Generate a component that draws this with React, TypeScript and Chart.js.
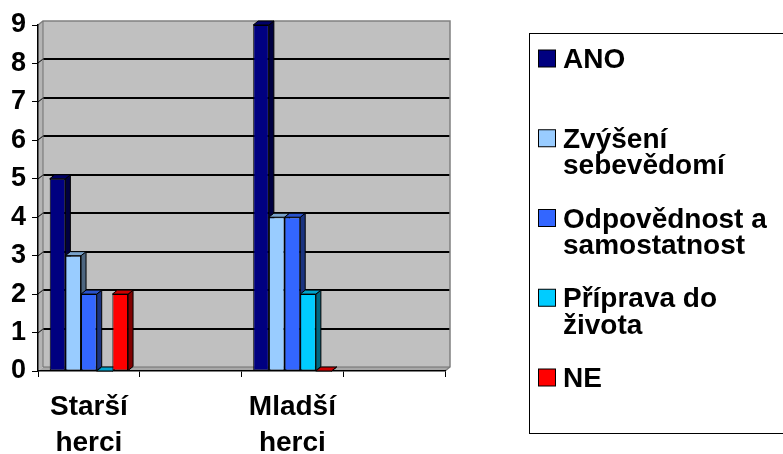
import React, { useEffect, useRef } from "react";
import { Chart, registerables } from "chart.js";

Chart.register(...registerables);

// ---- data ----
const categories = ["Starší herci", "", "Mladší herci", ""];
const seriesNames = [
  "ANO",
  "Zvýšení sebevědomí",
  "Odpovědnost a samostatnost",
  "Příprava do života",
  "NE",
];
const ano = [5, null, 9, null];
const zvyseniSebevedomi = [3, null, 4, null];
const odpovednostSamostatnost = [2, null, 4, null];
const pripravaDoZivota = [0, null, 2, null];
const ne = [2, null, 0, null];
const seriesValues = [ano, zvyseniSebevedomi, odpovednostSamostatnost, pripravaDoZivota, ne];
const seriesColors = ["#000080", "#99CCFF", "#3366FF", "#00CCFF", "#FF0000"];
const yMin = 0;
const yMax = 9;

// ---- styling constants ----
const FONT = "'Liberation Sans', Arial, Helvetica, sans-serif";
const DX = 5;
const DY = -4;

function shade(hex: string, f: number): string {
  const n = parseInt(hex.slice(1), 16);
  const r = Math.round(((n >> 16) & 255) * f);
  const g = Math.round(((n >> 8) & 255) * f);
  const b = Math.round((n & 255) * f);
  return `rgb(${r},${g},${b})`;
}

function poly(ctx: CanvasRenderingContext2D, pts: number[][], fill: string, stroke?: string) {
  ctx.beginPath();
  ctx.moveTo(pts[0][0], pts[0][1]);
  for (let i = 1; i < pts.length; i++) ctx.lineTo(pts[i][0], pts[i][1]);
  ctx.closePath();
  ctx.fillStyle = fill;
  ctx.fill();
  if (stroke) {
    ctx.strokeStyle = stroke;
    ctx.lineWidth = 1;
    ctx.stroke();
  }
}

const wallPlugin = {
  id: "wall3d",
  beforeDraw(chart: any) {
    const { ctx, chartArea } = chart;
    const L = chartArea.left;
    const R = chartArea.right;
    const T = chartArea.top;
    const B = chartArea.bottom;
    const ys = chart.scales.y;
    ctx.save();
    // back wall
    ctx.fillStyle = "#C0C0C0";
    ctx.fillRect(L + DX, T + DY, R - L, B - T);
    // left side wall
    poly(ctx, [[L, T], [L + DX, T + DY], [L + DX, B + DY], [L, B]], "#B4B4B4");
    // floor
    poly(ctx, [[L, B], [L + DX, B + DY], [R + DX, B + DY], [R, B]], "#A8A8A8");
    // gridlines on back wall
    for (let v = yMin + 1; v < yMax; v++) {
      const py = Math.round(ys.getPixelForValue(v) + DY);
      ctx.strokeStyle = "#000";
      ctx.lineWidth = 2;
      ctx.beginPath();
      ctx.moveTo(L + DX, py);
      ctx.lineTo(R + DX, py);
      ctx.stroke();
      ctx.lineWidth = 1;
      ctx.beginPath();
      ctx.moveTo(L, py - DY);
      ctx.lineTo(L + DX, py);
      ctx.stroke();
    }
    // wall outlines
    ctx.strokeStyle = "#808080";
    ctx.lineWidth = 1.5;
    ctx.beginPath();
    ctx.moveTo(L, T);
    ctx.lineTo(L + DX, T + DY);
    ctx.lineTo(R + DX, T + DY);
    ctx.lineTo(R + DX, B + DY);
    ctx.lineTo(R, B);
    ctx.stroke();
    ctx.beginPath();
    ctx.moveTo(L + DX, T + DY);
    ctx.lineTo(L + DX, B + DY);
    ctx.lineTo(R + DX, B + DY);
    ctx.strokeStyle = "#707070";
    ctx.lineWidth = 1;
    ctx.stroke();
    ctx.restore();
  },
  beforeDatasetsDraw(chart: any) {
    const { ctx } = chart;
    const n = chart.data.datasets.length;
    ctx.save();
    for (let i = 0; i < categories.length; i++) {
      for (let d = 0; d < n; d++) {
        const val = chart.data.datasets[d].data[i];
        if (val === null || val === undefined) continue;
        const el = chart.getDatasetMeta(d).data[i];
        if (!el) continue;
        const p = el.getProps(["x", "y", "base", "width"], true);
        const left = p.x - p.width / 2;
        const right = p.x + p.width / 2;
        const top = p.y;
        const base = p.base;
        const col = seriesColors[d];
        // side face
        poly(
          ctx,
          [[right, top], [right + DX, top + DY], [right + DX, base + DY], [right, base]],
          shade(col, 0.5),
          "#000"
        );
        // top face
        poly(
          ctx,
          [[left, top], [left + DX, top + DY], [right + DX, top + DY], [right, top]],
          shade(col, 0.8),
          "#000"
        );
      }
    }
    ctx.restore();
  },
};

function wrapText(ctx: CanvasRenderingContext2D, text: string, maxW: number): string[] {
  const words = text.split(" ");
  const lines: string[] = [];
  let cur = "";
  for (const w of words) {
    const test = cur ? cur + " " + w : w;
    if (cur && ctx.measureText(test).width > maxW) {
      lines.push(cur);
      cur = w;
    } else {
      cur = test;
    }
  }
  if (cur) lines.push(cur);
  return lines;
}

const legendPlugin = {
  id: "boxLegend",
  afterDraw(chart: any) {
    const { ctx } = chart;
    const boxX = 529.5;
    const boxY = 33.5;
    const boxW = 300;
    const boxH = 400;
    const firstBaseline = 68;
    const step = 79.75;
    const lineH = 26.5;
    const textX = 563;
    const swX = 538.5;
    const sw = 17;
    ctx.save();
    ctx.strokeStyle = "#000";
    ctx.lineWidth = 1;
    ctx.strokeRect(boxX, boxY, boxW, boxH);
    ctx.font = `bold 28px ${FONT}`;
    ctx.textBaseline = "alphabetic";
    ctx.textAlign = "left";
    chart.data.datasets.forEach((ds: any, i: number) => {
      const bl = firstBaseline + i * step;
      ctx.fillStyle = ds.backgroundColor;
      ctx.fillRect(swX, bl - sw - 1, sw, sw);
      ctx.strokeStyle = "#000";
      ctx.strokeRect(swX, bl - sw - 1, sw, sw);
      ctx.fillStyle = "#000";
      const lines = wrapText(ctx, ds.label, 783 - textX - 2);
      lines.forEach((ln, k) => ctx.fillText(ln, textX, bl + k * lineH));
    });
    ctx.restore();
  },
};

export default function App() {
  const ref = useRef<HTMLCanvasElement | null>(null);
  useEffect(() => {
    if (!ref.current) return;
    const chart = new Chart(ref.current, {
      type: "bar",
      data: {
        labels: categories,
        datasets: seriesNames.map((name, i) => ({
          label: name,
          data: seriesValues[i],
          backgroundColor: seriesColors[i],
          borderColor: "#000",
          borderWidth: 1,
          borderSkipped: false,
          categoryPercentage: 0.77,
          barPercentage: 1,
        })),
      },
      options: {
        responsive: false,
        animation: false,
        layout: { padding: { top: 25, right: 338, left: 0, bottom: 0 } },
        plugins: {
          legend: { display: false },
          tooltip: { enabled: false },
        },
        scales: {
          x: {
            grid: {
              offset: true,
              drawOnChartArea: false,
              drawTicks: true,
              tickLength: 6,
              color: "#000",
              lineWidth: 1,
            },
            border: { display: true, color: "#000", width: 1.5 },
            ticks: {
              color: "#000",
              font: { family: FONT, size: 28, weight: "bold", lineHeight: 1.29 },
              padding: 12,
              maxRotation: 0,
              autoSkip: false,
              callback: (_v: any, idx: number) => {
                const s = categories[idx];
                return s ? s.split(" ") : "";
              },
            },
            afterFit: (s: any) => {
              s.height = 83;
            },
          },
          y: {
            min: yMin,
            max: yMax,
            grid: {
              drawOnChartArea: false,
              drawTicks: true,
              tickLength: 6,
              color: "#000",
              lineWidth: 1,
            },
            border: { display: true, color: "#000", width: 1.5 },
            ticks: {
              stepSize: 1,
              color: "#000",
              padding: 6,
              font: { family: FONT, size: 27, weight: "bold" },
            },
            afterFit: (s: any) => {
              s.width = 38;
            },
          },
        },
      },
      plugins: [wallPlugin, legendPlugin],
    } as any);
    return () => chart.destroy();
  }, []);

  return (
    <div
      style={{
        position: "fixed",
        left: 0,
        top: 0,
        width: 783,
        height: 454,
        background: "#fff",
        overflow: "hidden",
      }}
    >
      <canvas ref={ref} width={783} height={454} style={{ display: "block" }} />
    </div>
  );
}
